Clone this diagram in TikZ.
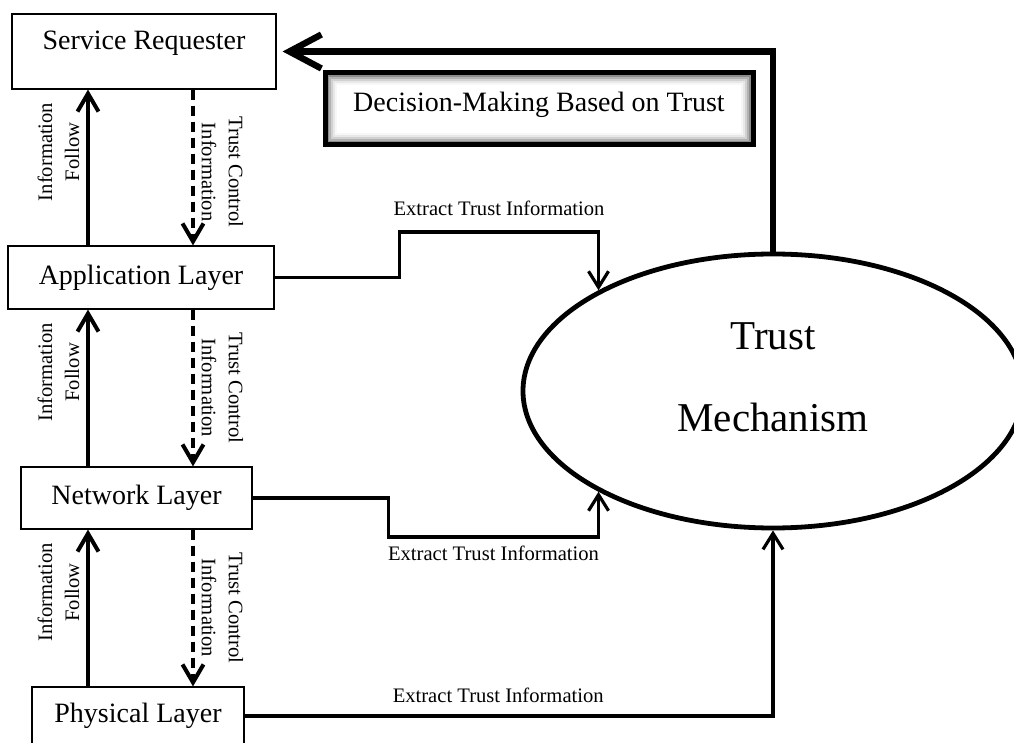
\documentclass[tikz,border=0pt]{standalone}
\usepackage{fontspec}
\setmainfont{Liberation Serif}
\usetikzlibrary{shapes.geometric, arrows.meta, positioning}

\begin{document}
\begin{tikzpicture}[
    x=0.5pt, y=-0.5pt,
    layer/.style={draw, line width=0.6pt, inner sep=0pt, font=\fontsize{14}{17}\selectfont},
    flow/.style={-{Straight Barb[length=9pt,width=10.5pt]}, line width=2pt},
    control/.style={flow, dash pattern=on 5pt off 3pt},
    extract/.style={-{Straight Barb[length=8pt,width=10pt]}, line width=1.6pt},
    feedback/.style={-{Straight Barb[length=16pt,width=17pt]}, line width=3.2pt},
    sidelabel/.style={align=center, font=\fontsize{10.3}{13.5}\selectfont},
    smalllabel/.style={font=\fontsize{10.3}{12}\selectfont}
]
    \path[use as bounding box, clip] (0,0) rectangle (1014,743);

    % layers
    \node[layer, minimum width=132pt, minimum height=37.5pt, text depth=11pt] (requester) at (144,51.5) {Service Requester};
    \node[layer, minimum width=133pt, minimum height=31.5pt] (application) at (141,277.5) {Application Layer};
    \node[layer, minimum width=115.5pt, minimum height=31pt] (network) at (136.5,498) {Network Layer};
    \node[layer, minimum width=106pt, minimum height=29pt] (physical) at (138,716) {Physical Layer};

    \node[ellipse, draw, line width=2.4pt, inner sep=0pt, minimum width=250pt, minimum height=137pt,
          align=center, font=\fontsize{20.5}{41}\selectfont, text depth=13.5pt] (trust) at (773,391) {Trust\\Mechanism};

    \node[draw, line width=2.5pt, inner sep=0pt, minimum width=214pt, minimum height=36pt, text depth=7pt,
          font=\fontsize{14}{17}\selectfont,
          path picture={\foreach \k/\c in {1.6/45,2.6/30,3.6/18,4.6/9,5.6/3}
              \draw[black!\c, line width=1.1pt] ([shift={(\k*1pt,-\k*1pt)}]path picture bounding box.north west)
                  rectangle ([shift={(-\k*1pt,\k*1pt)}]path picture bounding box.south east);}
         ] (decision) at (539,109) {Decision-Making Based on Trust};

    \coordinate (flowx) at (88,0);
    \coordinate (ctrlx) at (193,0);

    % information up, control down
    \draw[flow] (application.north -| flowx) -- node[sidelabel, pos=0.6, rotate=90, anchor=south] {Information\\Follow} (requester.south -| flowx);
    \draw[control] (requester.south -| ctrlx) -- node[sidelabel, pos=0.53, rotate=-90, anchor=south] {Trust Control\\Information} (application.north -| ctrlx);
    \draw[flow] (network.north -| flowx) -- node[sidelabel, pos=0.6, rotate=90, anchor=south] {Information\\Follow} (application.south -| flowx);
    \draw[control] (application.south -| ctrlx) -- node[sidelabel, pos=0.5, rotate=-90, anchor=south] {Trust Control\\Information} (network.north -| ctrlx);
    \draw[flow] (physical.north -| flowx) -- node[sidelabel, pos=0.6, rotate=90, anchor=south] {Information\\Follow} (network.south -| flowx);
    \draw[control] (network.south -| ctrlx) -- node[sidelabel, pos=0.5, rotate=-90, anchor=south] {Trust Control\\Information} (physical.north -| ctrlx);

    % extract trust information
    \draw[extract] (application.east) -- ++(125,0) -- ++(0,-45.5) -| node[smalllabel, pos=0.25, above=4pt] {Extract Trust Information} (trust.150);
    \draw[extract] (network.east) -- ++(136,0) -- ++(0,39) -| node[smalllabel, pos=0.25, below=0.5pt] {Extract Trust Information} (trust.210);
    \draw[extract] (physical.east) -| node[smalllabel, pos=0.24, above=2.5pt] {Extract Trust Information} (trust.south);

    \draw[feedback] (trust.north) |- ([xshift=3pt]requester.east);
\end{tikzpicture}
\end{document}
